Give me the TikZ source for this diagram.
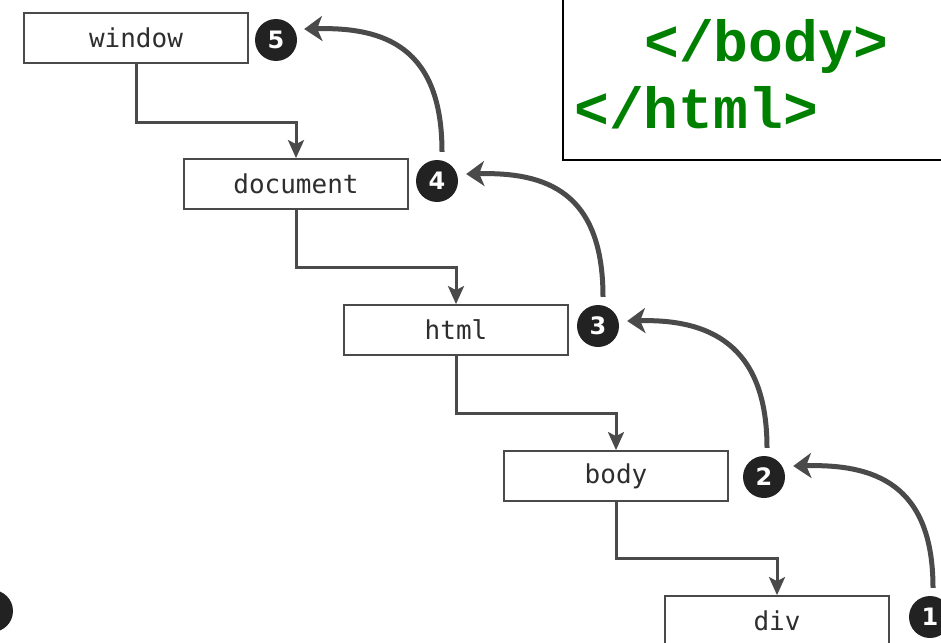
\documentclass[tikz,border=0pt]{standalone}
\usepackage{fontspec}
\usetikzlibrary{arrows.meta}
\newfontfamily\boxmono{DejaVu Sans Mono}
\newfontfamily\tagmono{Liberation Mono}
\newfontfamily\numfont{DejaVu Sans}
\definecolor{linegray}{HTML}{4A4A4A}
\definecolor{circfill}{HTML}{222222}
\definecolor{txtgray}{HTML}{2E2E2E}
\definecolor{tagfg}{RGB}{0,128,0}
\tikzset{
  objbox/.style={draw=linegray, line width=1.8pt, fill=white, minimum width=224pt, minimum height=50pt, inner sep=0pt, font=\boxmono\fontsize{26}{30}\selectfont, text=txtgray},
  numcirc/.style={circle, fill=circfill, minimum size=42pt, inner sep=0pt, text=white, font=\numfont\bfseries\fontsize{24}{26}\selectfont},
  conn/.style={draw=linegray, line width=3pt, -{Stealth[length=18pt, width=16pt, inset=4pt]}},
  curv/.style={draw=linegray, line width=5pt, -{Stealth[length=18pt, width=25pt, inset=5pt]}},
  tagtext/.style={anchor=base west, inner sep=0pt, text=tagfg, font=\tagmono\bfseries\fontsize{58}{60}\selectfont}
}
\begin{document}
\begin{tikzpicture}[x=1pt,y=-1pt]
\useasboundingbox (0,0) rectangle (941,642);
\clip (0,0) rectangle (941,642);
\fill[white] (0,0) rectangle (941,642);

% boxes
\node[objbox] (window) at (136,38) {window};
\node[objbox] (document) at (296,184) {document};
\node[objbox] (html) at (456,330) {html};
\node[objbox] (body) at (616,476) {body};
\node[objbox] (div) at (777,621) {div};

% circles
\node[numcirc] (c5) at (276,40) {5};
\node[numcirc] (c4) at (437,181) {4};
\node[numcirc] (c3) at (598,326) {3};
\node[numcirc] (c2) at (764,477) {2};
\node[numcirc] (c1) at (930,617) {1};
\node[numcirc] (c0) at (-8,611) {};

% tree connectors
\draw[conn] (window.south) -- ++(0,59) -| (document.north);
\draw[conn] (document.south) -- ++(0,58) -| (html.north);
\draw[conn] (html.south) -- ++(0,58) -| (body.north);
\draw[conn] (body.south) -- ++(0,57) -| (div.north);

% bubbling arrows
\draw[curv] ([shift={(3,-8)}]c1.north) .. controls +(0,-105) and +(80,-2) .. ([shift={(8,-11)}]c2.east);
\draw[curv] ([shift={(3,-8)}]c2.north) .. controls +(0,-105) and +(80,-2) .. ([shift={(8,-5)}]c3.east);
\draw[curv] ([shift={(5,-8)}]c3.north) .. controls +(0,-105) and +(80,-2) .. ([shift={(8,-7)}]c4.east);
\draw[curv] ([shift={(5,-8)}]c4.north) .. controls +(0,-105) and +(80,-2) .. ([shift={(7,-11)}]c5.east);

% code box
\draw[black, line width=2pt] (563,-10) rectangle (960,160);
\node[tagtext] (tbody) at (644,62) {</body>};
\node[tagtext] (thtml) at (574,128) {</html>};
\end{tikzpicture}
\end{document}
